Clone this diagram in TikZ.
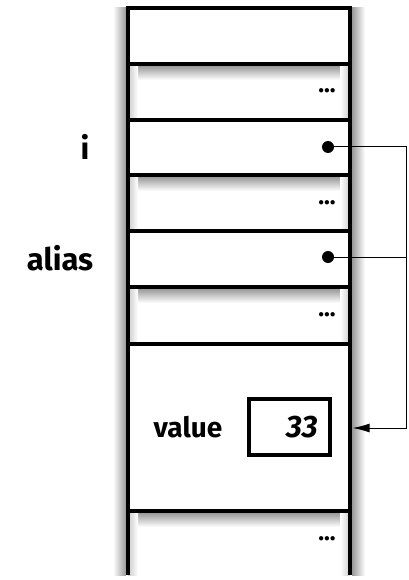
\documentclass[tikz,border=0pt]{standalone}
\usepackage{fontspec}
\setmainfont{Fira Sans}
\usetikzlibrary{arrows.meta}
\begin{document}
\begin{tikzpicture}[x=1pt,y=-1pt,
  wall/.style={line width=4.8pt},
  link/.style={line width=1pt},
  lbl/.style={font=\bfseries\fontsize{31}{33}\selectfont, inner sep=0pt},
  vlbl/.style={font=\bfseries\fontsize{28}{30}\selectfont, inner sep=0pt},
  num/.style={font=\bfseries\itshape\fontsize{31}{33}\selectfont, inner sep=0pt},
  dotsl/.style={font=\bfseries\fontsize{24}{24}\selectfont, inner sep=0pt},
  ptr/.style={circle, fill=black, inner sep=0pt, minimum size=12pt},
  valbox/.style={draw, line width=4.5pt, minimum width=81pt, minimum height=56pt, inner sep=0pt}]
\useasboundingbox (0,0) rectangle (408,580);
% outer shadows
\shade[left color=white, right color=black!40] (113,8) rectangle (126,575);
\shade[left color=black!40, right color=white] (352,8) rectangle (365,575);
% inner shadows of the "..." cells
\foreach \t/\b in {64/120,175/231,287/344,511/575}{
  \shade[top color=black!45, bottom color=white] (128,\t) rectangle (350,\t+16);
  \shade[left color=black!20, right color=white] (128,\t) rectangle (138,\b);
  \shade[left color=white, right color=black!20] (340,\t) rectangle (350,\b);
}
% stack walls
\draw[wall] (128,5.6) -- (128,575);
\draw[wall] (350,5.6) -- (350,575);
\foreach \y in {8,64,120,175,231,287,344,511}{
  \draw[wall] (128,\y) -- (350,\y);
}
% ellipses
\foreach \y [count=\k] in {91,203,315,539}{
  \node[dotsl] (dots\k) at (327,\y) {...};
}
% labels
\node[lbl] (li) at (85,147) {i};
\node[lbl] (la) at (60,258) {alias};
\node[vlbl] (vl) at (188,427) {value};
% value box
\node[valbox] (vbox) at (289.5,427) {};
\node[num, anchor=east] (n33) at (318,427) {33};
% pointers
\node[ptr] (pi) at (328,147) {};
\node[ptr] (pa) at (328,257) {};
\coordinate (ci) at (406.5,147);
\coordinate (ca) at (406.5,257);
\coordinate (cv) at (406.5,428);
\coordinate (vin) at (352.6,428);
\draw[link] (pi) -- (ci) -- (cv);
\draw[link] (pa) -- (ca);
\draw[link, -{Latex[length=17pt,width=9pt]}] (cv) -- (vin);
\end{tikzpicture}
\end{document}
